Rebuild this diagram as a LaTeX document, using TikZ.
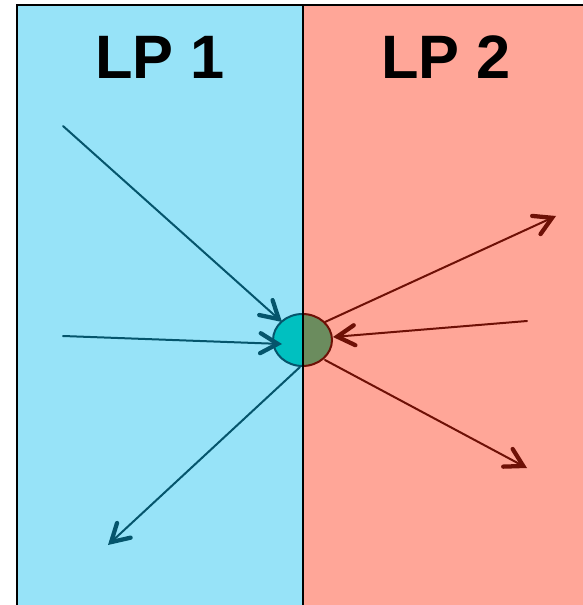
\documentclass[tikz,border=0pt]{standalone}
\usepackage{fontspec}
\setmainfont{Liberation Sans}
\usetikzlibrary{arrows.meta,shapes.geometric}
\definecolor{lpblue}{RGB}{151,227,248}
\definecolor{lpred}{RGB}{255,166,152}
\definecolor{tealdark}{RGB}{5,85,108}
\definecolor{reddark}{RGB}{110,16,6}
\definecolor{ballcyan}{RGB}{0,192,192}
\definecolor{ballgreen}{RGB}{107,140,94}
\tikzset{
  panel/.style={line width=1.6pt, draw=black},
  title/.style={font=\fontsize{46}{50}\selectfont\bfseries, text=black},
  lparrow/.style={line width=1.5pt, -{Straight Barb[length=13pt,width=15pt,line width=3.2pt,line cap=round]}, line cap=round},
  inarrow/.style={lparrow, draw=tealdark},
  outarrow/.style={lparrow, draw=reddark},
}
\begin{document}
\begin{tikzpicture}[x=0.75pt,y=-0.75pt]
\useasboundingbox (0,0) rectangle (582,605);
\fill[white] (0,0) rectangle (582,605);
% panels
\fill[lpblue] (17,5) rectangle (303,610);
\fill[lpred] (303,5) rectangle (590,610);
\draw[panel] (590,5) -- (17,5) -- (17,610);
\node[title] (lp1) at (160,57) {LP 1};
\node[title] (lp2) at (446,57) {LP 2};
% ball
\node[ellipse,minimum width=44pt,minimum height=39pt,inner sep=0pt] (c) at (302.5,340) {};
\begin{scope}
  \clip (0,0) rectangle (302.5,605);
  \fill[ballcyan,draw=tealdark,line width=1.5pt] (302.5,340) ellipse [x radius=29.5, y radius=26];
\end{scope}
\begin{scope}
  \clip (302.5,0) rectangle (582,605);
  \fill[ballgreen,draw=reddark,line width=1.5pt] (302.5,340) ellipse [x radius=29.5, y radius=26];
\end{scope}
\draw[panel] (303,5) -- (303,610);
% arrow endpoints
\coordinate (a1) at (63,126);
\coordinate (a2) at (63,336);
\coordinate (a3) at (108,545);
\coordinate (b1) at (556,216);
\coordinate (b2) at (527,321);
\coordinate (b3) at (527,468);
\coordinate (c1) at (282,322);
\coordinate (c2) at (282,344);
\coordinate (c3) at (300,367);
\coordinate (d1) at (325,322);
\coordinate (d2) at (333,337);
\coordinate (d3) at (325,360);
\draw[inarrow] (a1) -- (c1);
\draw[inarrow] (a2) -- (c2);
\draw[inarrow] (c3) -- (a3);
\draw[outarrow] (d1) -- (b1);
\draw[outarrow] (b2) -- (d2);
\draw[outarrow] (d3) -- (b3);
\end{tikzpicture}
\end{document}
